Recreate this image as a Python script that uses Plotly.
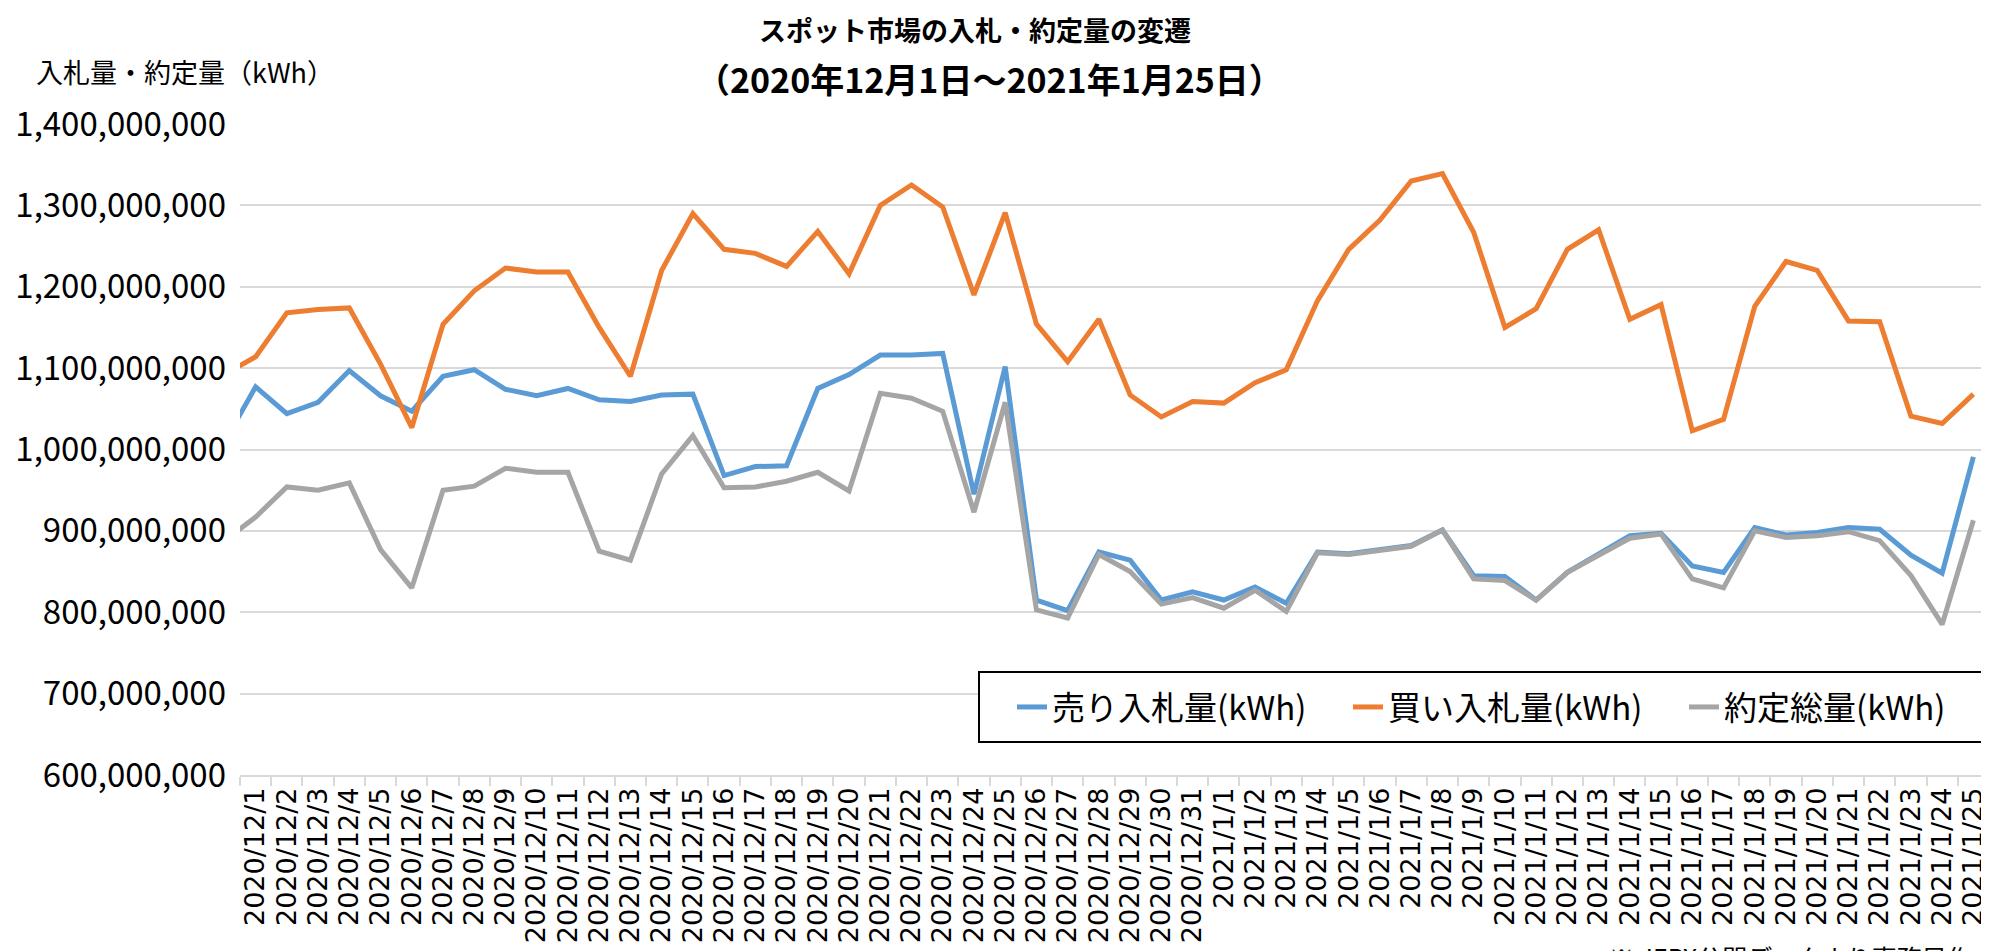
import plotly.graph_objects as go

# category labels; first entry is the day before the window, only its line end shows at the left edge
dates = (["2020/11/30"]
         + [f"2020/12/{d}" for d in range(1, 32)]
         + [f"2021/1/{d}" for d in range(1, 26)])

# values in million kWh
sell_bids = [1009,
             1077, 1044, 1058, 1097, 1066, 1047, 1090, 1098, 1074, 1066,
             1075, 1061, 1059, 1067, 1068, 968, 979, 980, 1075, 1092,
             1116, 1116, 1118, 945, 1102, 815, 802, 874, 864, 815, 825,
             815, 831, 811, 874, 872, 877, 882, 901, 845, 844,
             815, 849, 871, 894, 897, 857, 849, 904, 895, 898,
             904, 902, 870, 848, 991]
buy_bids = [1092,
            1114, 1168, 1172, 1174, 1105, 1027, 1154, 1195, 1223, 1218,
            1218, 1150, 1090, 1220, 1290, 1246, 1241, 1225, 1268, 1216,
            1300, 1325, 1298, 1190, 1291, 1154, 1108, 1160, 1067, 1040, 1059,
            1057, 1082, 1098, 1183, 1246, 1282, 1330, 1339, 1267, 1150,
            1173, 1246, 1270, 1160, 1178, 1023, 1037, 1176, 1231, 1220,
            1158, 1157, 1041, 1032, 1068]
contracted = [888,
              917, 954, 950, 959, 877, 830, 950, 955, 977, 972,
              972, 875, 864, 970, 1017, 953, 954, 961, 972, 949,
              1069, 1063, 1047, 923, 1058, 803, 793, 871, 850, 810, 818,
              805, 827, 801, 873, 871, 876, 881, 901, 841, 839,
              815, 849, 870, 891, 896, 841, 830, 900, 892, 894,
              899, 888, 845, 785, 913]

series = [
    ("売り入札量(kWh)", sell_bids, "#5B9BD5"),
    ("買い入札量(kWh)", buy_bids, "#ED7D31"),
    ("約定総量(kWh)", contracted, "#A5A5A5"),
]

JP = "Noto Sans CJK JP"

# the page body adds an 8px margin, so the figure is 8px smaller and margins 8px tighter
W, H = 1981, 943
L, T, B = 232, 116, 176
PW, PH = W - L, H - T - B


def px(x):  # page pixel -> paper x
    return (x - 8 - L) / PW


def py(y):  # page pixel -> paper y
    return (H - B - (y - 8)) / PH


fig = go.Figure()
for name, vals, color in series:
    fig.add_trace(go.Scatter(
        x=dates, y=[v * 1e6 for v in vals], name=name, mode="lines",
        line=dict(color=color, width=5)))

fig.update_layout(
    width=W, height=H,
    margin=dict(l=L, r=0, t=T, b=B, autoexpand=False),
    paper_bgcolor="white", plot_bgcolor="white",
    font=dict(family=JP, color="black"),
    showlegend=True,
    legend=dict(orientation="h", x=px(1012), y=py(707), xanchor="left", yanchor="middle",
                borderwidth=0, bgcolor="rgba(0,0,0,0)",
                font=dict(family=JP, size=33), entrywidth=291),
)

# legend frame
fig.add_shape(type="rect", xref="paper", yref="paper",
              x0=px(979), x1=px(1985), y0=py(742), y1=py(672),
              line=dict(color="black", width=2), fillcolor="white", layer="above")

fig.update_xaxes(
    type="category", categoryorder="array", categoryarray=dates,
    range=[0.5, len(dates) - 0.5],
    tickmode="array", tickvals=dates[1:], ticktext=dates[1:],
    tickson="boundaries", ticks="outside", ticklen=9, tickcolor="#D9D9D9", tickwidth=1.5,
    showline=True, linecolor="#D9D9D9", linewidth=1.5,
    showgrid=False, tickangle=-90,
    tickfont=dict(family="DejaVu Sans", size=27, color="black"),
)
fig.update_yaxes(
    range=[600e6, 1400e6], dtick=100e6, tickformat=",d",
    showgrid=True, gridcolor="#D9D9D9", gridwidth=1.5,
    zeroline=False, showline=False, ticks="",
    ticklabelstandoff=13,
    tickfont=dict(family=JP, size=33, color="black"),
)

fig.add_annotation(text="<b>スポット市場の入札・約定量の変遷</b>", xref="paper", yref="paper",
                   x=px(975), y=1 + T / PH, xanchor="center", yanchor="top",
                   showarrow=False, font=dict(family=JP, size=27))
fig.add_annotation(text="<b>（2020年12月1日～2021年1月25日）</b>", xref="paper", yref="paper",
                   x=px(989), y=py(79), xanchor="center", yanchor="middle",
                   showarrow=False, font=dict(family=JP, size=34))
fig.add_annotation(text="入札量・約定量（kWh）", xref="paper", yref="paper",
                   x=px(34), y=py(72), xanchor="left", yanchor="middle",
                   showarrow=False, font=dict(family=JP, size=27))
fig.add_annotation(text="※ JEPX公開データより事務局作成", xref="paper", yref="paper",
                   x=px(1607), y=py(937), xanchor="left", yanchor="top",
                   showarrow=False, font=dict(family=JP, size=25))

fig.write_html("out.html")
